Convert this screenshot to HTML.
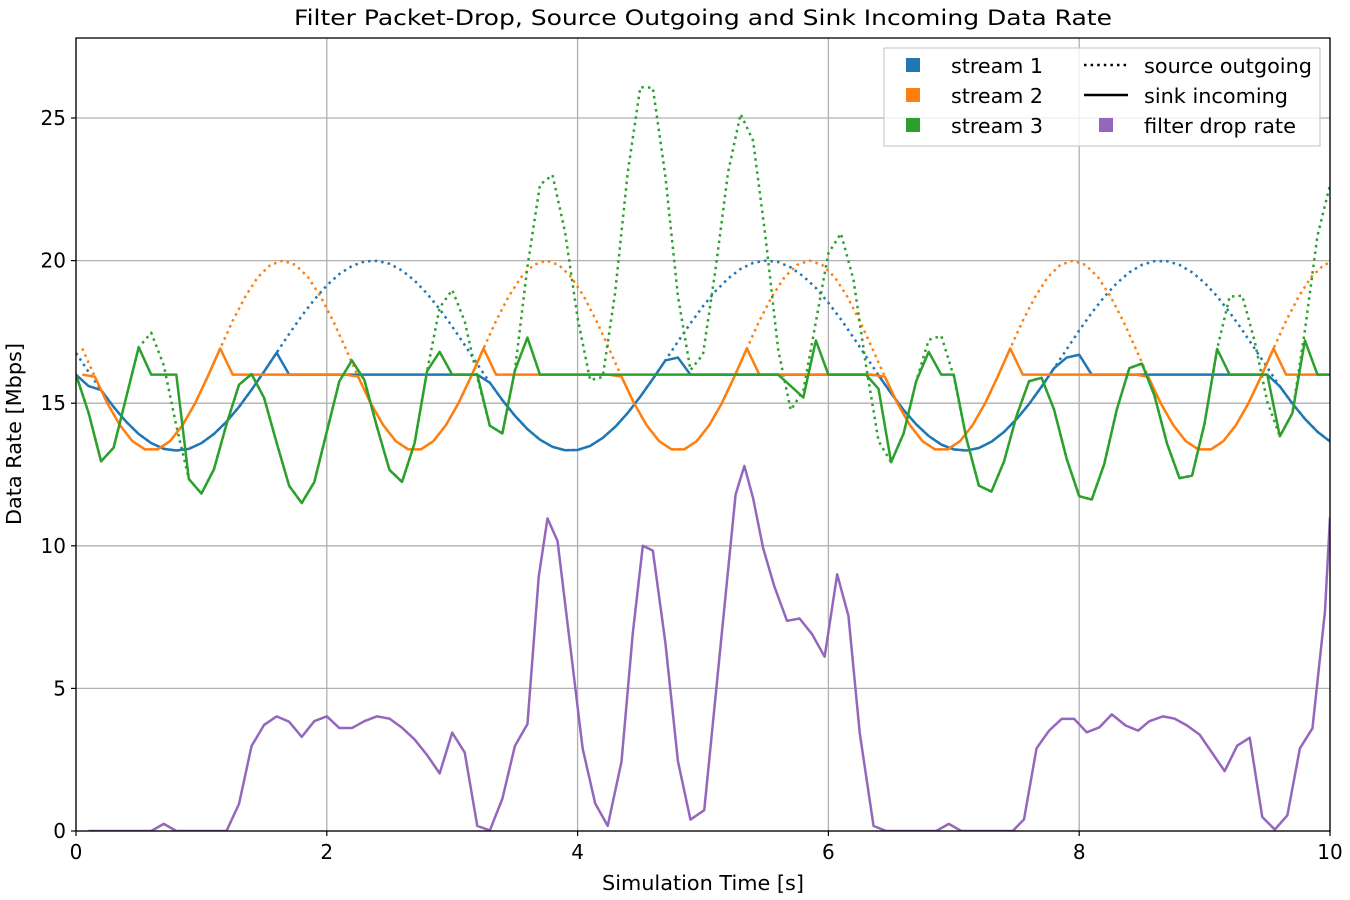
<!DOCTYPE html>
<html><head><meta charset="utf-8"><style>
html,body{margin:0;padding:0;background:#fff;}
svg{display:block;font-family:"DejaVu Sans","Liberation Sans",sans-serif;}
</style></head><body>
<svg id="chart" width="1350" height="900" viewBox="0 0 1350 900">
<defs><clipPath id="pc"><rect x="76" y="38" width="1254" height="793"/></clipPath></defs>
<rect x="0" y="0" width="1350" height="900" fill="#fff"/>
<g id="grid"></g>
<g id="series" clip-path="url(#pc)"></g>
<rect x="76" y="38" width="1254" height="793" fill="none" stroke="#000" stroke-width="1.3"/>
<g id="ticks"></g>
<text x="703" y="25" text-anchor="middle" font-size="21.5" textLength="818" lengthAdjust="spacingAndGlyphs">Filter Packet-Drop, Source Outgoing and Sink Incoming Data Rate</text>
<text x="703" y="890" text-anchor="middle" font-size="20" textLength="202" lengthAdjust="spacingAndGlyphs">Simulation Time [s]</text>
<text transform="translate(21,434) rotate(-90)" text-anchor="middle" font-size="20" textLength="182" lengthAdjust="spacingAndGlyphs">Data Rate [Mbps]</text>
<g>
<rect x="884" y="48" width="436" height="98" fill="#fff" fill-opacity="0.8" stroke="#ccc" stroke-width="1.2"/>
<rect x="906" y="58" width="14" height="14" fill="#1f77b4"/>
<text x="951" y="73" font-size="20" textLength="92" lengthAdjust="spacingAndGlyphs">stream 1</text>
<rect x="906" y="88" width="14" height="14" fill="#ff7f0e"/>
<text x="951" y="103" font-size="20" textLength="92" lengthAdjust="spacingAndGlyphs">stream 2</text>
<rect x="906" y="118" width="14" height="14" fill="#2ca02c"/>
<text x="951" y="133" font-size="20" textLength="92" lengthAdjust="spacingAndGlyphs">stream 3</text>
<line x1="1084" y1="65" x2="1128" y2="65" stroke="#000" stroke-width="2.5" stroke-dasharray="2.5,4.1"/>
<text x="1144" y="73" font-size="20" textLength="168" lengthAdjust="spacingAndGlyphs">source outgoing</text>
<line x1="1084" y1="95" x2="1128" y2="95" stroke="#000" stroke-width="2.5"/>
<text x="1144" y="103" font-size="20" textLength="144" lengthAdjust="spacingAndGlyphs">sink incoming</text>
<rect x="1099" y="118" width="14" height="14" fill="#9467bd"/>
<text x="1144" y="133" font-size="20" textLength="152" lengthAdjust="spacingAndGlyphs">filter drop rate</text>
</g>
</svg>
<script>
const xTicks=[0,2,4,6,8,10];
const yTicks=[0,5,10,15,20,25];
const src1=[16.76,16.10,15.46,14.87,14.35,13.92,13.60,13.40,13.34,13.40,13.60,13.92,14.35,14.87,15.47,16.11,16.77,17.43,18.06,18.63,19.13,19.53,19.81,19.97,19.99,19.89,19.65,19.30,18.84,18.30,17.69,17.04,16.37,15.72,15.11,14.56,14.09,13.72,13.47,13.35,13.36,13.50,13.78,14.17,14.66,15.23,15.85,16.50,17.16,17.80,18.40,18.93,19.37,19.71,19.92,20.00,19.95,19.76,19.45,19.04,18.52,17.94,17.30,16.64,15.98,15.35,14.76,14.26,13.85,13.55,13.38,13.34,13.43,13.65,13.99,14.44,14.97,15.58,16.23,16.89,17.55,18.17,18.73,19.21,19.59,19.85,19.98,19.98,19.85,19.59,19.22,18.75,18.18,17.57,16.91,16.25,15.59,14.99,14.45,14.00,13.66];
const sink1=[16.0,15.6,15.46,14.87,14.35,13.92,13.60,13.40,13.34,13.40,13.60,13.92,14.35,14.87,15.47,16.11,16.77,16,16,16,16,16,16,16,16,16,16,16,16,16,16,16,16,15.72,15.11,14.56,14.09,13.72,13.47,13.35,13.36,13.50,13.78,14.17,14.66,15.23,15.85,16.50,16.6,16,16,16,16,16,16,16,16,16,16,16,16,16,16,16,15.98,15.35,14.76,14.26,13.85,13.55,13.38,13.34,13.43,13.65,13.99,14.44,14.97,15.58,16.23,16.6,16.7,16,16,16,16,16,16,16,16,16,16,16,16,16,16,16,15.59,14.99,14.45,14.00,13.66];
const src2=[16.92,15.93,15.00,14.23,13.67,13.38,13.38,13.67,14.23,15.00,15.93,16.92,17.89,18.74,19.42,19.85,20.00,19.85,19.42,18.74,17.89,
16.92,15.93,15.00,14.23,13.67,13.38,13.38,13.67,14.23,15.00,15.93,16.92,17.89,18.74,19.42,19.85,20.00,19.85,19.42,18.74,17.89,
16.92,15.93,15.00,14.23,13.67,13.38,13.38,13.67,14.23,15.00,15.93,16.92,17.89,18.74,19.42,19.85,20.00,19.85,19.42,18.74,17.89,
16.92,15.93,15.00,14.23,13.67,13.38,13.38,13.67,14.23,15.00,15.93,16.92,17.89,18.74,19.42,19.85,20.00,19.85,19.42,18.74,17.89,
16.92,15.93,15.00,14.23,13.67,13.38,13.38,13.67,14.23,15.00,15.93,16.92,17.89,18.74,19.42,19.85,20.00];
const sink2=[16.00,15.93,15.00,14.23,13.67,13.38,13.38,13.67,14.23,15.00,15.93,16.92,16,16,16,16,16,16,16,16,16,
16.00,15.93,15.00,14.23,13.67,13.38,13.38,13.67,14.23,15.00,15.93,16.92,16,16,16,16,16,16,16,16,16,
16.00,15.93,15.00,14.23,13.67,13.38,13.38,13.67,14.23,15.00,15.93,16.92,16,16,16,16,16,16,16,16,16,
16.00,15.93,15.00,14.23,13.67,13.38,13.38,13.67,14.23,15.00,15.93,16.92,16,16,16,16,16,16,16,16,16,
16.00,15.93,15.00,14.23,13.67,13.38,13.38,13.67,14.23,15.00,15.93,16.92,16,16,16,16,16];
const src3=[16.0,14.67,12.96,13.44,15.2,16.96,17.47,16.33,14.21,12.34,
11.83,12.68,14.26,15.65,16.02,15.19,13.61,12.10,11.5,12.23,
14.0,15.77,16.5,15.81,14.17,12.66,12.24,13.6,16.13,18.35,
18.97,17.87,15.9,14.21,13.94,16.15,19.79,22.66,23.0,21.0,
17.99,15.81,15.92,18.9,23.1,26.08,26.06,22.96,18.75,16.16,
16.71,19.69,23.1,25.14,24.2,20.77,16.86,14.76,15.44,17.85,
20.26,20.95,19.33,16.32,13.67,12.93,13.94,15.77,17.22,17.36,
15.94,13.77,12.11,11.9,12.95,14.55,15.77,15.89,14.77,13.05,
11.74,11.62,12.87,14.78,16.23,16.39,15.27,13.59,12.37,12.46,
14.3,16.9,18.74,18.77,17.16,15.05,13.84,14.65,17.56,20.87,
22.65];
const sink3=[16.0,14.67,12.96,13.44,15.2,16.96,16.0,16.0,16.0,12.34,
11.83,12.68,14.26,15.65,16.02,15.19,13.61,12.10,11.5,12.23,
14.0,15.77,16.5,15.81,14.17,12.66,12.24,13.6,16.13,16.8,
16,16,16,14.21,13.94,16.15,17.3,16,16,16,
16,16,16,16,16,16,16,16,16,16,
16,16,16,16,16,16,16,15.6,15.2,17.2,
16,16,16,16,15.5,12.93,13.94,15.77,16.8,16,
16,13.77,12.11,11.9,12.95,14.55,15.77,15.89,14.77,13.05,
11.74,11.62,12.87,14.78,16.23,16.39,15.27,13.59,12.37,12.46,
14.3,16.9,16,16,16,16,13.84,14.65,17.2,16,
16];
const dropT=[0.1,0.2,0.3,0.4,0.5,0.6,0.7,0.8,0.9,1.0,1.1,1.2,1.3,1.4,1.5,1.6,1.7,1.8,1.9,2.0,2.1,2.2,2.3,2.4,2.5,2.6,2.7,2.8,2.9,3.0,3.1,3.2,3.3,3.4,3.5,3.6,3.69,3.76,3.84,4.04,4.14,4.24,4.35,4.44,4.52,4.60,4.70,4.80,4.90,5.01,5.26,5.33,5.40,5.48,5.57,5.67,5.77,5.87,5.97,6.07,6.16,6.25,6.36,6.46,6.86,6.96,7.06,7.47,7.56,7.66,7.76,7.86,7.96,8.06,8.16,8.26,8.37,8.47,8.56,8.67,8.76,8.86,8.96,9.06,9.16,9.26,9.36,9.46,9.56,9.66,9.76,9.86,9.96,10.0];
const dropV=[0,0,0,0,0,0,0.25,0,0,0,0,0,0.95,2.98,3.72,4.02,3.83,3.30,3.85,4.02,3.61,3.61,3.85,4.02,3.94,3.62,3.21,2.66,2.02,3.45,2.75,0.18,0.02,1.13,2.98,3.75,8.92,10.96,10.17,2.9,0.97,0.18,2.43,6.93,10.0,9.83,6.6,2.45,0.40,0.73,11.8,12.8,11.66,9.91,8.56,7.37,7.45,6.9,6.11,9.0,7.54,3.43,0.18,0,0,0.25,0,0,0.41,2.9,3.52,3.93,3.93,3.46,3.63,4.09,3.70,3.52,3.85,4.02,3.94,3.70,3.38,2.74,2.10,2.99,3.27,0.49,0.05,0.55,2.9,3.6,7.7,11.0];
const SAMPLE_STEP=0.1;

const NS="http://www.w3.org/2000/svg";
const X0=76,X1=1330,Y0=831,Y1=38,XMAX=10,YMAX=(831-38)/28.52;
function sx(t){return X0+(X1-X0)*t/XMAX;}
function sy(v){return Y0-(Y0-Y1)*v/YMAX;}
const grid=document.getElementById('grid'),ticks=document.getElementById('ticks'),series=document.getElementById('series');
xTicks.forEach(function(t){
  const g=document.createElementNS(NS,'line');
  g.setAttribute('x1',sx(t));g.setAttribute('x2',sx(t));g.setAttribute('y1',Y1);g.setAttribute('y2',Y0);
  g.setAttribute('stroke','#b0b0b0');g.setAttribute('stroke-width','1.3');
  
  
  grid.appendChild(g);
  const tk=document.createElementNS(NS,'line');
  tk.setAttribute('x1',sx(t));tk.setAttribute('x2',sx(t));tk.setAttribute('y1',Y0);tk.setAttribute('y2',Y0+5);
  tk.setAttribute('stroke','#000');tk.setAttribute('stroke-width','1.2');
  
  
  ticks.appendChild(tk);
  const tx=document.createElementNS(NS,'text');
  tx.setAttribute('x',sx(t));tx.setAttribute('y',Y0+28);tx.setAttribute('text-anchor','middle');tx.setAttribute('font-size','20');
  tx.textContent=String(t);
  
  
  ticks.appendChild(tx);
});
yTicks.forEach(function(v){
  const g=document.createElementNS(NS,'line');
  g.setAttribute('x1',X0);g.setAttribute('x2',X1);g.setAttribute('y1',sy(v));g.setAttribute('y2',sy(v));
  g.setAttribute('stroke','#b0b0b0');g.setAttribute('stroke-width','1.3');
  
  
  grid.appendChild(g);
  const tk=document.createElementNS(NS,'line');
  tk.setAttribute('x1',X0-5);tk.setAttribute('x2',X0);tk.setAttribute('y1',sy(v));tk.setAttribute('y2',sy(v));
  tk.setAttribute('stroke','#000');tk.setAttribute('stroke-width','1.2');
  
  
  ticks.appendChild(tk);
  const tx=document.createElementNS(NS,'text');
  tx.setAttribute('x',X0-10);tx.setAttribute('y',sy(v)+7);tx.setAttribute('text-anchor','end');tx.setAttribute('font-size','20');
  tx.textContent=String(v);
  
  
  ticks.appendChild(tx);
});
function drawLine(ts,vs,color,dashed,name){
  let d='';
  for(let i=0;i<vs.length;i++){d+=(i?'L':'M')+sx(ts[i]).toFixed(2)+','+sy(vs[i]).toFixed(2);}
  const p=document.createElementNS(NS,'path');
  p.setAttribute('d',d);p.setAttribute('fill','none');p.setAttribute('stroke',color);
  p.setAttribute('stroke-width','2.5');p.setAttribute('stroke-linejoin','round');
  if(dashed){p.setAttribute('stroke-dasharray','2.5,4.1');}
  
  
  series.appendChild(p);
}
function stepTimes(n,off){const a=[];for(let i=0;i<n;i++){a.push(i*SAMPLE_STEP+(off||0));}return a;}
drawLine(stepTimes(src1.length),src1,'#1f77b4',true,'stream-1-source-line');
drawLine(stepTimes(src2.length,0.05),src2,'#ff7f0e',true,'stream-2-source-line');
drawLine(stepTimes(src3.length),src3,'#2ca02c',true,'stream-3-source-line');
drawLine(stepTimes(sink1.length),sink1,'#1f77b4',false,'stream-1-sink-line');
drawLine(stepTimes(sink2.length,0.05),sink2,'#ff7f0e',false,'stream-2-sink-line');
drawLine(stepTimes(sink3.length),sink3,'#2ca02c',false,'stream-3-sink-line');
drawLine(dropT,dropV,'#9467bd',false,'filter-drop-rate-line');
</script>
</body></html>
